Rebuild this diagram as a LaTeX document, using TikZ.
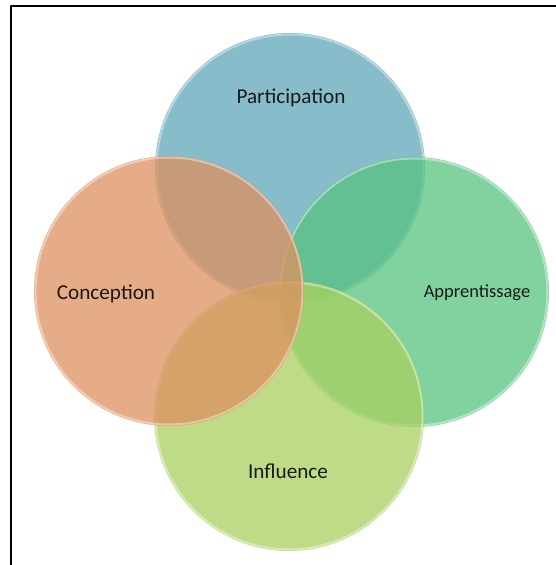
\documentclass[tikz,border=0pt]{standalone}
\usepackage{fontspec}
\setmainfont{Carlito}
\definecolor{bleu}{RGB}{95,165,184}
\definecolor{vert}{RGB}{88,195,128}
\definecolor{vertclair}{RGB}{168,208,95}
\definecolor{orange}{RGB}{221,144,95}
\tikzset{
  cercle/.style={circle, minimum size=270pt, inner sep=0pt, fill opacity=0.75},
  reflet/.style={draw=white, draw opacity=0.4, line width=2pt},
  etiquette/.style={text=black!90, inner sep=0pt}
}
\begin{document}
\begin{tikzpicture}[x=1pt, y=-1pt, font=\fontsize{21.2}{25}\selectfont, line join=round, line cap=round]
\useasboundingbox (0,0) rectangle (556,565);
% Cadre (coupé à droite et en bas)
\draw[line width=1.5pt] (556,6) -- (11,6) -- (11,565);
% Les quatre cercles, dans l'ordre de superposition
\foreach \nom/\x/\y/\coul in {participation/290/168/bleu, apprentissage/414/292/vert, influence/289/416/vertclair, conception/169/291/orange} {
  \node[cercle, fill=\coul] (\nom) at (\x,\y) {};
  % Reflet clair le long du bord
  \draw[reflet] (\nom.center) circle(133.5);
}
% Textes
\node[etiquette] (txtparticipation) at (291,98) {Participation};
\node[etiquette] (txtconception) at (106,294) {Conception};
\node[etiquette, font=\fontsize{18.5}{22}\selectfont] (txtapprentissage) at (477,293) {Apprentissage};
\node[etiquette] (txtinfluence) at (288,471) {Influence};
\end{tikzpicture}
\end{document}
